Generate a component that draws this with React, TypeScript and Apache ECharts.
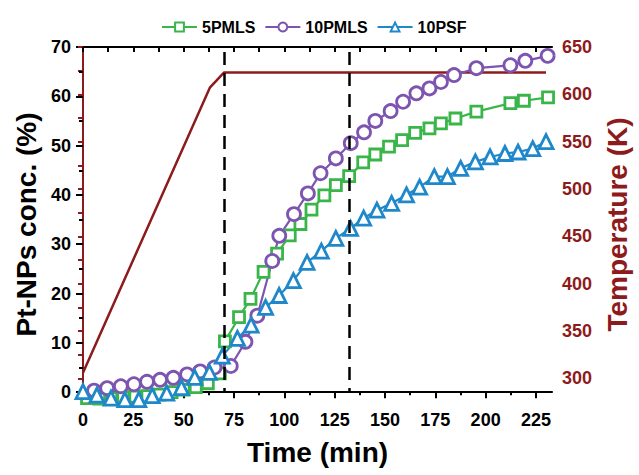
import React, { useEffect, useRef } from "react";
import * as echarts from "echarts";

const FONT = '"Liberation Sans", Arial, Helvetica, sans-serif';
const RED = "#8E1B1B";
const GREEN = "#3AB54A";
const PURPLE = "#7D55B0";
const BLUE = "#1F88CA";

// 5PMLS
const pmls5Time = [2, 8, 14, 20, 26, 32, 38, 44, 50, 56, 62, 68, 70.5, 77.5, 83.2, 89.7, 96.4, 102.7, 108, 113.5, 119.9, 125.6, 132.2, 139.2, 145.2, 152, 158.5, 165, 172.1, 177.8, 185, 195.4, 212.3, 219, 231];
const pmls5Conc = [-1.2, -1.3, -1.2, -1.0, -0.9, -0.8, -0.5, 0, 0.5, 1.0, 1.8, 3.8, 10.3, 15.2, 18.9, 24.4, 28.1, 31.8, 34.1, 37.0, 39.9, 42.0, 43.8, 46.6, 48.2, 49.8, 51.1, 52.6, 53.5, 54.5, 55.5, 56.9, 58.6, 59.1, 59.8];

// 10PMLS
const pmls10Time = [5.5, 12, 18.8, 25.3, 31.8, 38.3, 44.9, 51.7, 58.2, 65.3, 73.4, 80.7, 86.6, 94, 97.5, 104.8, 111.7, 118, 125.6, 133, 139.6, 145.2, 152.8, 159, 165.6, 172.1, 177.8, 184.3, 195.4, 212.3, 219.7, 230.8];
const pmls10Conc = [0.3, 0.8, 1.2, 1.6, 2.1, 2.5, 2.9, 3.6, 4.2, 5.0, 5.3, 10.2, 15.5, 26.6, 31.7, 36.1, 40.3, 44.4, 47.4, 50.5, 52.7, 55.0, 57.0, 58.9, 60.6, 61.6, 62.9, 64.3, 65.7, 66.3, 67.2, 68.2];

// 10PSF
const psf10Time = [0, 6.9, 13.9, 20.8, 27.7, 34.4, 41.6, 48.9, 55.5, 62.8, 69.2, 76.7, 83.5, 90.7, 97.4, 104.5, 111.3, 118.4, 125.6, 132.9, 139.4, 146, 153.3, 160.7, 167.2, 174.5, 181, 187.6, 194.9, 202.2, 209.6, 216.1, 223.4, 230];
const psf10Conc = [0.1, -0.6, -1.2, -1.5, -1.5, -0.7, -0.2, 0.9, 3.0, 4.0, 7.3, 10.9, 13.6, 17.2, 19.6, 22.6, 26.3, 28.6, 31.2, 33.2, 35.3, 36.9, 38.3, 40.0, 41.6, 43.7, 43.7, 45.4, 46.7, 47.7, 48.4, 48.7, 49.4, 50.8];

// Temperature profile
const tempTime = [0, 63, 70, 230];
const tempK = [306, 607, 623, 623];

// Dashed markers
const markTimes = [70, 132.5];

// Ticks
const xTicks = [0, 25, 50, 75, 100, 125, 150, 175, 200, 225];
const xMinorTicks = [12.5, 37.5, 62.5, 87.5, 112.5, 137.5, 162.5, 187.5, 212.5];
const xTopTicks = [0, 12.5, 25, 37.5, 50, 62.5, 75, 87.5, 100, 112.5, 125, 137.5, 150, 162.5, 175, 187.5, 200, 212.5, 225];
const yTicks = [0, 10, 20, 30, 40, 50, 60, 70];
const yMinorTicks = [5, 15, 25, 35, 45, 55, 65];
const tempLabels = [300, 350, 400, 450, 500, 550, 600, 650];
const tempTicks = [300, 325, 350, 375, 400, 425, 450, 475, 500, 525, 550, 575, 600, 625, 650];

const zip = (a: number[], b: number[]) => a.map((v, i) => [v, b[i]]);

const X_MIN = 0, X_MAX = 233;
const Y_MIN = -2, Y_MAX = 70;
const T_MIN = 275, T_MAX = 650;

const labelStyle = { fontFamily: FONT, fontWeight: "bold" as const, fontSize: 18, color: "#000" };
const titleStyle = { fontFamily: FONT, fontWeight: "bold" as const, fontSize: 28, color: "#000" };

function markerSeries(name: string, t: number[], v: number[], color: string, symbol: string, size: number) {
  return {
    name,
    type: "line",
    xAxisIndex: 0,
    yAxisIndex: 0,
    data: zip(t, v),
    symbol,
    symbolSize: size,
    showAllSymbol: true,
    lineStyle: { color, width: 2.2 },
    itemStyle: { color: "#fff", borderColor: color, borderWidth: 2.8 },
    color,
  };
}

export default function App() {
  const ref = useRef<HTMLDivElement>(null);
  useEffect(() => {
    document.body.style.margin = "0";
    const chart = echarts.init(ref.current!, null, { renderer: "svg" });
    const option: any = {
      animation: false,
      backgroundColor: "#fff",
      grid: { left: 83, right: 79, top: 47, bottom: 73, containLabel: false },
      legend: {
        data: ["5PMLS", "10PMLS", "10PSF"],
        left: 156,
        top: 14,
        itemWidth: 35,
        itemHeight: 11,
        itemGap: 9,
        textStyle: { fontFamily: FONT, fontWeight: "bold", fontSize: 16, color: "#000" },
      },
      xAxis: [
        {
          type: "value", min: X_MIN, max: X_MAX, position: "bottom",
          splitLine: { show: false },
          axisLine: { lineStyle: { color: "#000", width: 2 } },
          axisTick: { length: 6, customValues: xTicks, lineStyle: { color: "#000", width: 2 } },
          axisLabel: { ...labelStyle, customValues: xTicks, margin: 9 },
          name: "Time (min)", nameLocation: "middle", nameGap: 36, nameTextStyle: titleStyle,
        },
        {
          type: "value", min: X_MIN, max: X_MAX, position: "bottom",
          splitLine: { show: false },
          axisLine: { show: false },
          axisTick: { length: 3, customValues: xMinorTicks, lineStyle: { color: "#000", width: 2 } },
          axisLabel: { show: false },
        },
        {
          type: "value", min: X_MIN, max: X_MAX, position: "top",
          splitLine: { show: false },
          axisLine: { lineStyle: { color: "#000", width: 2 } },
          axisTick: { inside: true, length: 5, customValues: xTopTicks, lineStyle: { color: "#000", width: 2 } },
          axisLabel: { show: false },
        },
      ],
      yAxis: [
        {
          type: "value", min: Y_MIN, max: Y_MAX, position: "left",
          splitLine: { show: false },
          axisLine: { lineStyle: { color: "#000", width: 2 } },
          axisTick: { length: 7, customValues: yTicks, lineStyle: { color: "#000", width: 2 } },
          axisLabel: { ...labelStyle, customValues: yTicks, margin: 12 },
          name: "Pt-NPs conc. (%)", nameLocation: "middle", nameRotate: 90, nameGap: 40, nameTextStyle: titleStyle,
        },
        {
          type: "value", min: T_MIN, max: T_MAX, position: "right",
          splitLine: { show: false },
          axisLine: { lineStyle: { color: RED, width: 2 } },
          axisTick: { inside: true, length: 5, customValues: tempTicks, lineStyle: { color: RED, width: 2 } },
          axisLabel: { ...labelStyle, color: RED, customValues: tempLabels, margin: 10 },
          name: "Temperature (K)", nameLocation: "middle", nameRotate: 90, nameGap: 39,
          nameTextStyle: { ...titleStyle, color: RED },
        },
        {
          type: "value", min: Y_MIN, max: Y_MAX, position: "left",
          splitLine: { show: false },
          axisLine: { show: false },
          axisTick: { length: 4, customValues: yMinorTicks, lineStyle: { color: "#000", width: 2 } },
          axisLabel: { show: false },
        },
      ],
      series: [
        {
          name: "Temperature",
          type: "line",
          xAxisIndex: 0,
          yAxisIndex: 1,
          data: zip(tempTime, tempK),
          symbol: "none",
          lineStyle: { color: RED, width: 2.5 },
          color: RED,
          z: 1,
        },
        {
          name: "markers",
          type: "line",
          xAxisIndex: 0,
          yAxisIndex: 0,
          data: [],
          markLine: {
            silent: true,
            symbol: "none",
            label: { show: false },
            lineStyle: { color: "#000", width: 2.5, type: [13, 8] },
            data: markTimes.map((t) => [{ coord: [t, 69] }, { coord: [t, 0] }]),
          },
          z: 1,
        },
        markerSeries("5PMLS", pmls5Time, pmls5Conc, GREEN, "rect", 11),
        markerSeries("10PMLS", pmls10Time, pmls10Conc, PURPLE, "circle", 13),
        markerSeries("10PSF", psf10Time, psf10Conc, BLUE, "triangle", 14),
      ],
    };
    chart.setOption(option);
    return () => chart.dispose();
  }, []);
  return <div ref={ref} style={{ width: 639, height: 475 }} />;
}
